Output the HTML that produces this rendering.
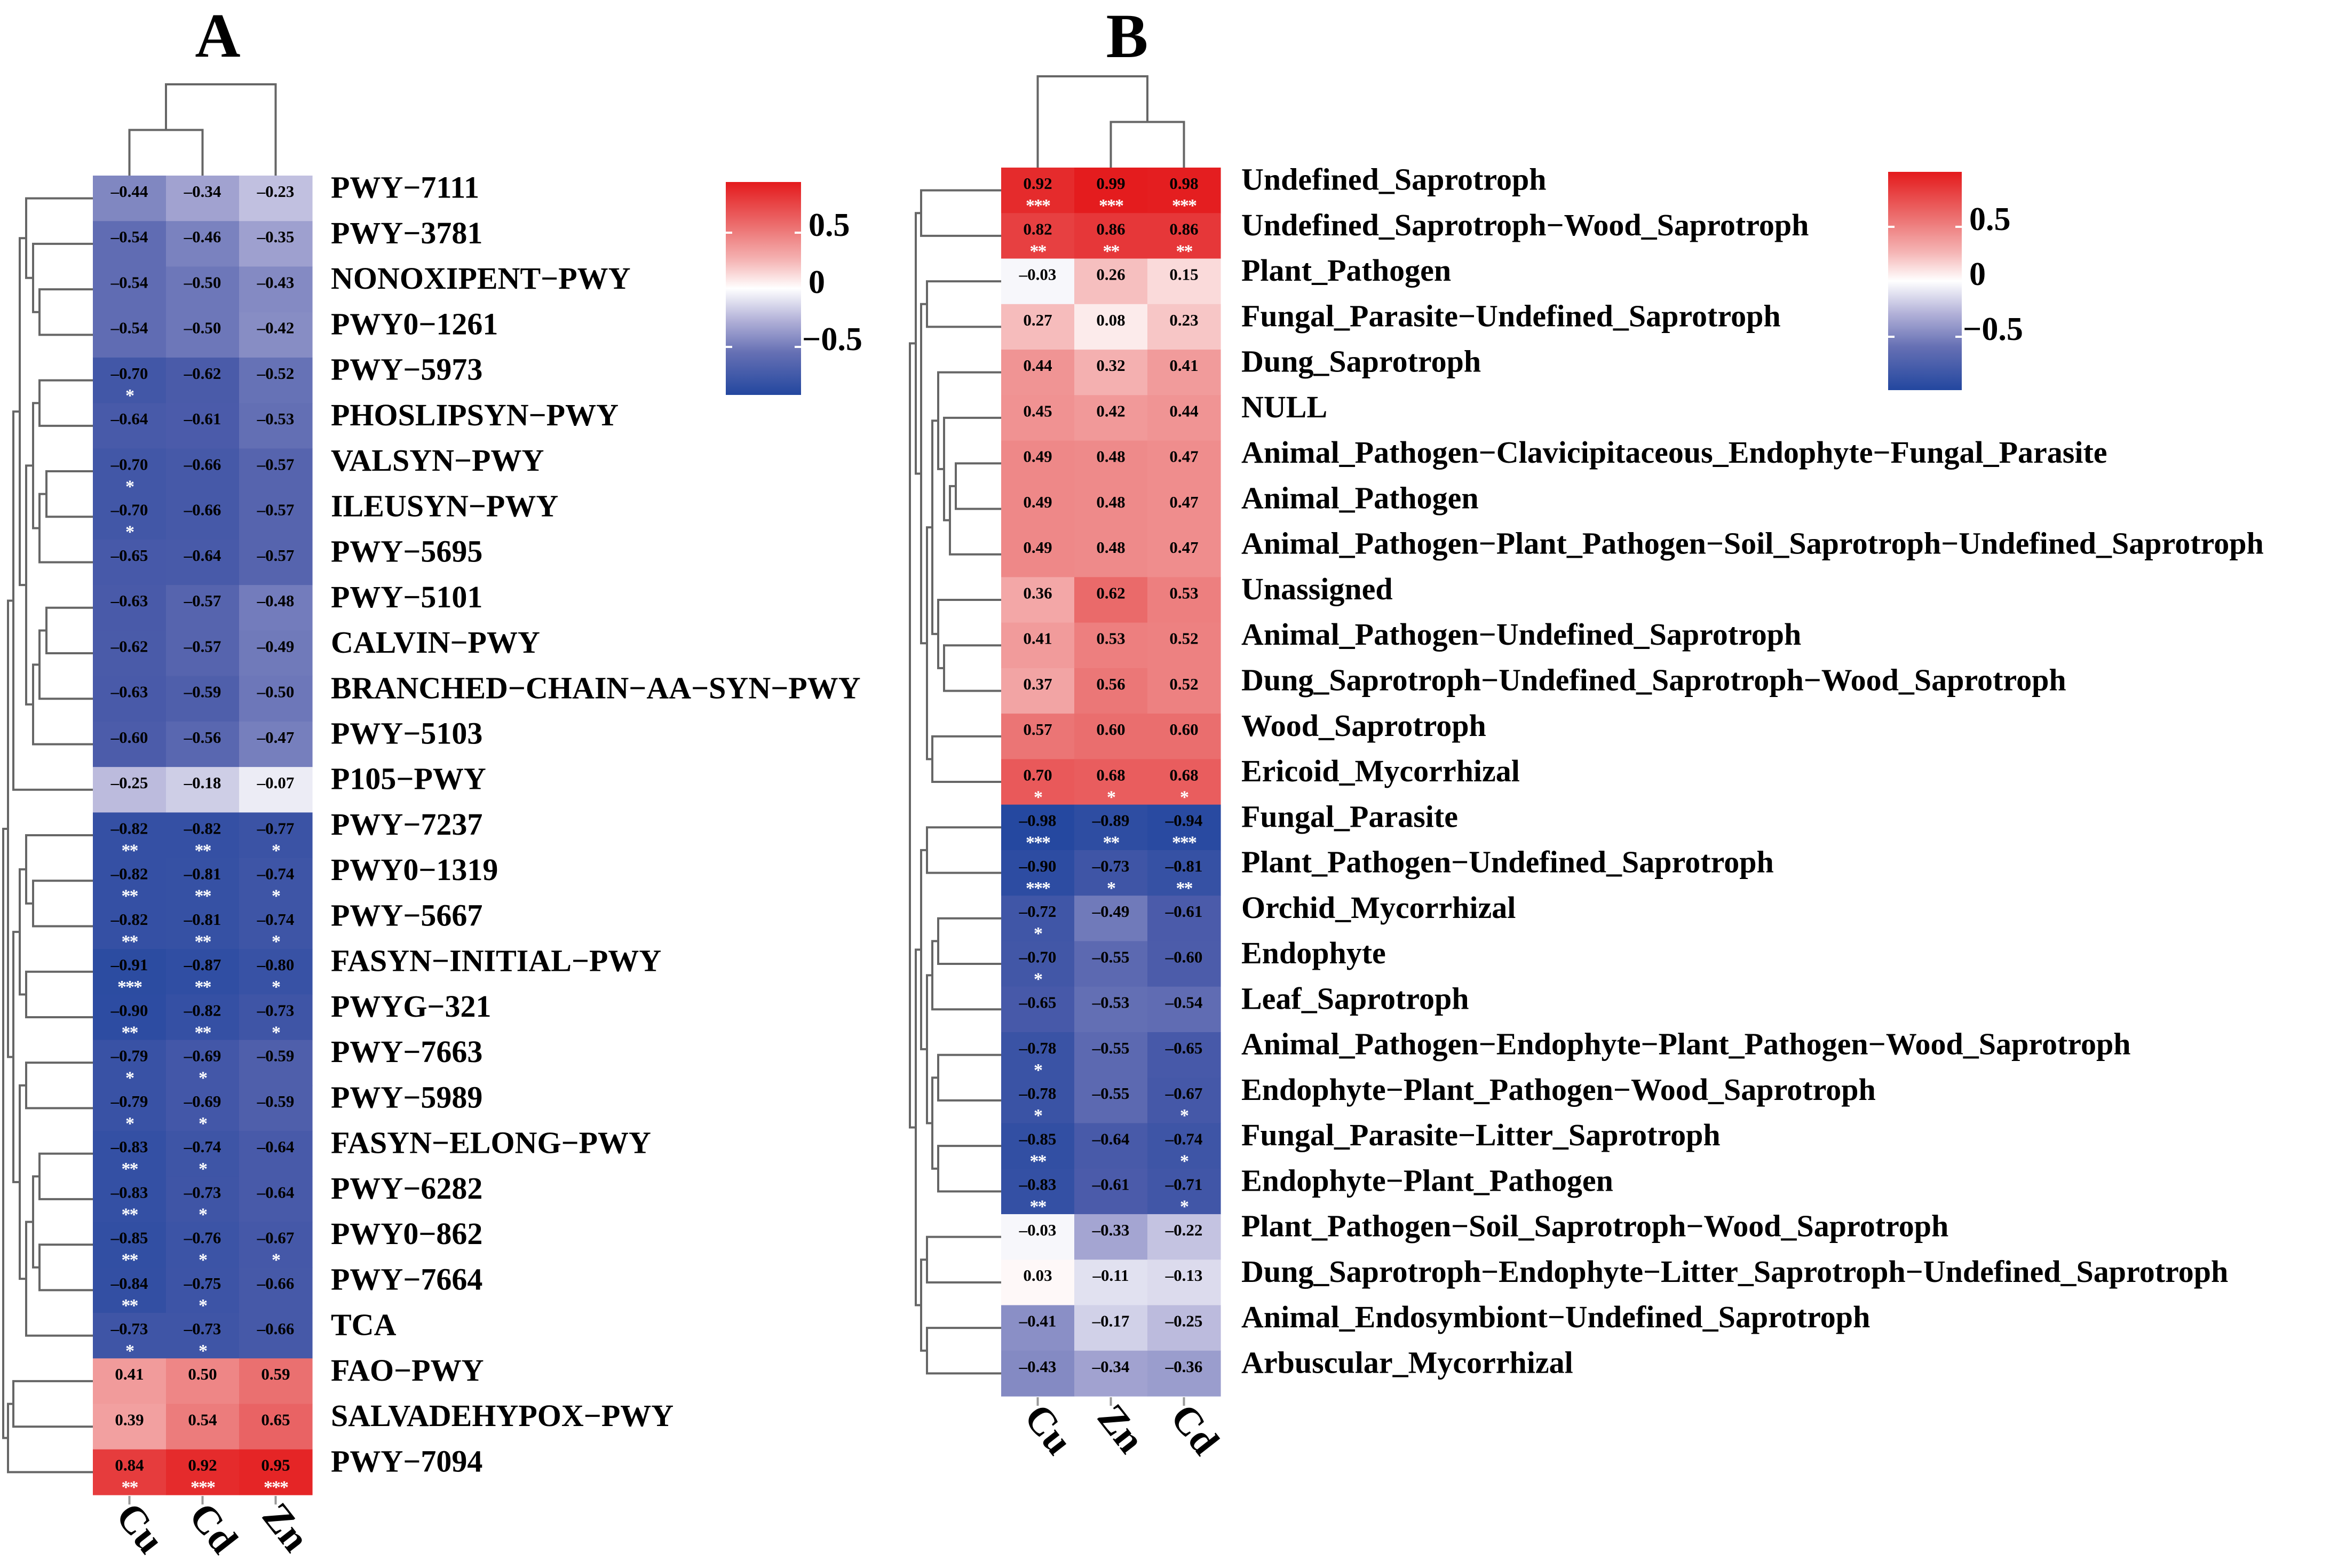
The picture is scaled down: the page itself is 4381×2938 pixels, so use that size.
<!DOCTYPE html>
<html><head><meta charset="utf-8"><style>
html,body{margin:0;padding:0;background:#fff;}
svg{display:block;}
text{font-family:"Liberation Serif","Times New Roman",serif;font-weight:bold;}
</style></head><body>
<svg id="fig" width="4381" height="2938" viewBox="0 0 4381 2938" xmlns="http://www.w3.org/2000/svg">
<defs>
<linearGradient id="legGrad" x1="0" y1="0" x2="0" y2="1">
<stop offset="0" stop-color="#e41a1c"/>
<stop offset="0.21" stop-color="#ec7070"/>
<stop offset="0.37" stop-color="#f5b5b5"/>
<stop offset="0.50" stop-color="#ffffff"/>
<stop offset="0.65" stop-color="#b2b1d8"/>
<stop offset="0.80" stop-color="#6670b4"/>
<stop offset="1" stop-color="#23479f"/>
</linearGradient>
</defs>
<g id="root"></g>
</svg>
<script>
// ---------- Panel A data ----------
const rowsA = ["PWY\u22127111","PWY\u22123781","NONOXIPENT\u2212PWY","PWY0\u22121261","PWY\u22125973","PHOSLIPSYN\u2212PWY","VALSYN\u2212PWY","ILEUSYN\u2212PWY","PWY\u22125695","PWY\u22125101","CALVIN\u2212PWY","BRANCHED\u2212CHAIN\u2212AA\u2212SYN\u2212PWY","PWY\u22125103","P105\u2212PWY","PWY\u22127237","PWY0\u22121319","PWY\u22125667","FASYN\u2212INITIAL\u2212PWY","PWYG\u2212321","PWY\u22127663","PWY\u22125989","FASYN\u2212ELONG\u2212PWY","PWY\u22126282","PWY0\u2212862","PWY\u22127664","TCA","FAO\u2212PWY","SALVADEHYPOX\u2212PWY","PWY\u22127094"];
const colsA = ["Cu","Cd","Zn"];
const cuA = [-0.44,-0.54,-0.54,-0.54,-0.70,-0.64,-0.70,-0.70,-0.65,-0.63,-0.62,-0.63,-0.60,-0.25,-0.82,-0.82,-0.82,-0.91,-0.90,-0.79,-0.79,-0.83,-0.83,-0.85,-0.84,-0.73,0.41,0.39,0.84];
const cdA = [-0.34,-0.46,-0.50,-0.50,-0.62,-0.61,-0.66,-0.66,-0.64,-0.57,-0.57,-0.59,-0.56,-0.18,-0.82,-0.81,-0.81,-0.87,-0.82,-0.69,-0.69,-0.74,-0.73,-0.76,-0.75,-0.73,0.50,0.54,0.92];
const znA = [-0.23,-0.35,-0.43,-0.42,-0.52,-0.53,-0.57,-0.57,-0.57,-0.48,-0.49,-0.50,-0.47,-0.07,-0.77,-0.74,-0.74,-0.80,-0.73,-0.59,-0.59,-0.64,-0.64,-0.67,-0.66,-0.66,0.59,0.65,0.95];
const cuStarA = ["","","","","*","","*","*","","","","","","","**","**","**","***","**","*","*","**","**","**","**","*","","","**"];
const cdStarA = ["","","","","","","","","","","","","","","**","**","**","**","**","*","*","*","*","*","*","*","","","***"];
const znStarA = ["","","","","","","","","","","","","","","*","*","*","*","*","","","","","*","","","","","***"];
const treeA = [168,
  [159,
    [149,
      [137, [125,0,[112,1,[100,2,3]]],
            [125,[112,[100,4,5],[100,[87,6,7],8]],[112,[100,[87,9,10],11],12]]],
      13],
    [149,
      [137,[125,14,[112,15,16]],[125,17,18]],
      [137,[125,19,20],[125,[112,[100,21,22],[100,23,24]],25]]]],
  [159,[149,26,27],28]];
const colTreeA = [2, [1, 0, 1], 2];

// ---------- Panel B data ----------
const rowsB = ["Undefined_Saprotroph","Undefined_Saprotroph\u2212Wood_Saprotroph","Plant_Pathogen","Fungal_Parasite\u2212Undefined_Saprotroph","Dung_Saprotroph","NULL","Animal_Pathogen\u2212Clavicipitaceous_Endophyte\u2212Fungal_Parasite","Animal_Pathogen","Animal_Pathogen\u2212Plant_Pathogen\u2212Soil_Saprotroph\u2212Undefined_Saprotroph","Unassigned","Animal_Pathogen\u2212Undefined_Saprotroph","Dung_Saprotroph\u2212Undefined_Saprotroph\u2212Wood_Saprotroph","Wood_Saprotroph","Ericoid_Mycorrhizal","Fungal_Parasite","Plant_Pathogen\u2212Undefined_Saprotroph","Orchid_Mycorrhizal","Endophyte","Leaf_Saprotroph","Animal_Pathogen\u2212Endophyte\u2212Plant_Pathogen\u2212Wood_Saprotroph","Endophyte\u2212Plant_Pathogen\u2212Wood_Saprotroph","Fungal_Parasite\u2212Litter_Saprotroph","Endophyte\u2212Plant_Pathogen","Plant_Pathogen\u2212Soil_Saprotroph\u2212Wood_Saprotroph","Dung_Saprotroph\u2212Endophyte\u2212Litter_Saprotroph\u2212Undefined_Saprotroph","Animal_Endosymbiont\u2212Undefined_Saprotroph","Arbuscular_Mycorrhizal"];
const colsB = ["Cu","Zn","Cd"];
const cuB = [0.92,0.82,-0.03,0.27,0.44,0.45,0.49,0.49,0.49,0.36,0.41,0.37,0.57,0.70,-0.98,-0.90,-0.72,-0.70,-0.65,-0.78,-0.78,-0.85,-0.83,-0.03,0.03,-0.41,-0.43];
const znB = [0.99,0.86,0.26,0.08,0.32,0.42,0.48,0.48,0.48,0.62,0.53,0.56,0.60,0.68,-0.89,-0.73,-0.49,-0.55,-0.53,-0.55,-0.55,-0.64,-0.61,-0.33,-0.11,-0.17,-0.34];
const cdB = [0.98,0.86,0.15,0.23,0.41,0.44,0.47,0.47,0.47,0.53,0.52,0.52,0.60,0.68,-0.94,-0.81,-0.61,-0.60,-0.54,-0.65,-0.67,-0.74,-0.71,-0.22,-0.13,-0.25,-0.36];
const cuStarB = ["***","**","","","","","","","","","","","","*","***","***","*","*","","*","*","**","**","","","",""];
const znStarB = ["***","**","","","","","","","","","","","","*","**","*","","","","","","","","","","",""];
const cdStarB = ["***","**","","","","","","","","","","","","*","***","**","","","","","*","*","*","","","",""];
const treeB = [171,
  [160,[150,0,1],
    [150,[139,2,3],
      [139,[129,[118,4,[107,5,[96,[85,6,7],8]]],[118,9,[107,10,11]]],[129,12,13]]]],
  [160,
    [150,[139,14,15],[139,[129,[118,16,17],18],[129,[118,19,20],[118,21,22]]]],
    [150,[139,23,24],[139,25,26]]]];
const colTreeB = [2, 0, [1, 1, 2]];

const legendTicks = [0.5, 0, -0.5];
const legendTickLabels = ["0.5","0","\u22120.5"];

// ---------- helpers ----------
const NS = "http://www.w3.org/2000/svg";
const root = document.getElementById("root");
function mk(tag, attrs, parent) {
  const e = document.createElementNS(NS, tag);
  for (const k in attrs) e.setAttribute(k, attrs[k]);
  (parent || root).appendChild(e);
  return e;
}
const stops = [[-1,[35,71,159]],[-0.6,[76,92,170]],[-0.3,[174,173,214]],[0,[255,255,255]],[0.3,[245,181,181]],[0.6,[234,110,110]],[1,[228,26,28]]];
function color(v) {
  v = Math.max(-1, Math.min(1, v));
  for (let i = 0; i < stops.length - 1; i++) {
    const a = stops[i], b = stops[i+1];
    if (v >= a[0] && v <= b[0]) {
      const t = (v - a[0]) / (b[0] - a[0]);
      const c = a[1].map((x, j) => Math.round(x + (b[1][j] - x) * t));
      return "rgb(" + c.join(",") + ")";
    }
  }
  return "#fff";
}
function fmt(v) { return (v < 0 ? "\u2013" : "") + Math.abs(v).toFixed(2); }

function panel(P) {
  const g = mk("g", {});
  
  
  const nR = P.rows.length;
  const yOf = i => P.top + (i + 0.5) * P.rowH;
  const xOf = j => P.left + (j + 0.5) * P.colW;
  const t = mk("text", {x: P.titleX, y: P.titleY, "font-size": 118, "text-anchor": "middle", fill: "#000"}, g);
  t.textContent = P.title;
  
  
  const cg = mk("g", {}, g);
  
  
  for (let j = 0; j < P.series.length; j++) {
    for (let i = 0; i < nR; i++) {
      const v = P.series[j][i];
      const r = mk("rect", {x: P.left + j * P.colW, y: P.top + i * P.rowH, width: P.colW + 0.6, height: P.rowH + 0.6, fill: color(v)}, cg);
      
      
      const tv = mk("text", {x: xOf(j), y: P.top + i * P.rowH + 40, "font-size": 31, "text-anchor": "middle", fill: "#000"}, cg);
      tv.textContent = fmt(v);
      
      
      const s = P.stars[j][i];
      if (s) {
        const ts = mk("text", {x: xOf(j), y: P.top + i * P.rowH + 82, "font-size": 34, "text-anchor": "middle", fill: "#fff", "font-weight": "normal", "letter-spacing": "-2"}, cg);
        ts.textContent = s;
        
        
      }
    }
  }
  for (let i = 0; i < nR; i++) {
    const tl = mk("text", {x: P.labelX, y: yOf(i) - 1, "font-size": 58, fill: "#000"}, g);
    tl.textContent = P.rows[i];
    
    
  }
  const bottom = P.top + nR * P.rowH;
  for (let j = 0; j < P.cols.length; j++) {
    const tk = mk("line", {x1: xOf(j), x2: xOf(j), y1: bottom + 2, y2: bottom + 18, stroke: "#999", "stroke-width": 4}, g);
    
    
    const cl = mk("text", {x: 0, y: 0, "font-size": 74, fill: "#000", transform: "translate(" + (xOf(j) - 28) + "," + (bottom + 40) + ") rotate(52)"}, g);
    cl.textContent = P.cols[j];
    
    
  }
  const dg = mk("g", {fill: "none", stroke: "#666", "stroke-width": 4}, g);
  
  
  function drawRow(node) {
    if (typeof node === "number") return {y: yOf(node), x: P.left};
    const a = drawRow(node[1]), b = drawRow(node[2]);
    const x = P.left - node[0];
    mk("path", {d: "M" + a.x + "," + a.y + "H" + x + "V" + b.y + "H" + b.x}, dg);
    return {y: (a.y + b.y) / 2, x: x};
  }
  drawRow(P.tree);
  const cdg = mk("g", {fill: "none", stroke: "#666", "stroke-width": 4}, g);
  
  
  function drawCol(node) {
    if (typeof node === "number") return {x: xOf(node), y: P.top};
    const a = drawCol(node[1]), b = drawCol(node[2]);
    const y = P.top - node[0] * P.colUnit;
    mk("path", {d: "M" + a.x + "," + a.y + "V" + y + "H" + b.x + "V" + b.y}, cdg);
    return {x: (a.x + b.x) / 2, y: y};
  }
  drawCol(P.colTree);
  const lg = mk("g", {}, g);
  
  
  mk("rect", {x: P.legX, y: P.legTop, width: P.legW, height: P.legBot - P.legTop, fill: "url(#legGrad)"}, lg);
  const zeroY = P.legZero, per = P.legPer;
  legendTicks.forEach((v, k) => {
    const y = zeroY - v * per;
    if (v !== 0) {
      mk("line", {x1: P.legX, x2: P.legX + 12, y1: y, y2: y, stroke: "#fff", "stroke-width": 4}, lg);
      mk("line", {x1: P.legX + P.legW - 12, x2: P.legX + P.legW, y1: y, y2: y, stroke: "#fff", "stroke-width": 4}, lg);
    }
    const lt = mk("text", {x: P.legX + P.legW + (v < 0 ? 2 : 14), y: y + 6, "font-size": 62, fill: "#000"}, lg);
    lt.textContent = legendTickLabels[k];
    
    
  });
}

panel({name: "panel-a", title: "A", titleX: 408, titleY: 106, rows: rowsA, cols: colsA,
  series: [cuA, cdA, znA], stars: [cuStarA, cdStarA, znStarA], tree: treeA, colTree: colTreeA,
  left: 174, top: 329, colW: 137, rowH: 85.24, labelX: 620, colUnit: 85.5,
  legX: 1360, legW: 141, legTop: 341, legBot: 740, legZero: 543, legPer: 214});

panel({name: "panel-b", title: "B", titleX: 2112, titleY: 107, rows: rowsB, cols: colsB,
  series: [cuB, znB, cdB], stars: [cuStarB, znStarB, cdStarB], tree: treeB, colTree: colTreeB,
  left: 1876, top: 314, colW: 137, rowH: 85.26, labelX: 2326, colUnit: 85.5,
  legX: 3538, legW: 138, legTop: 322, legBot: 731, legZero: 528, legPer: 206});
</script>
</body></html>
